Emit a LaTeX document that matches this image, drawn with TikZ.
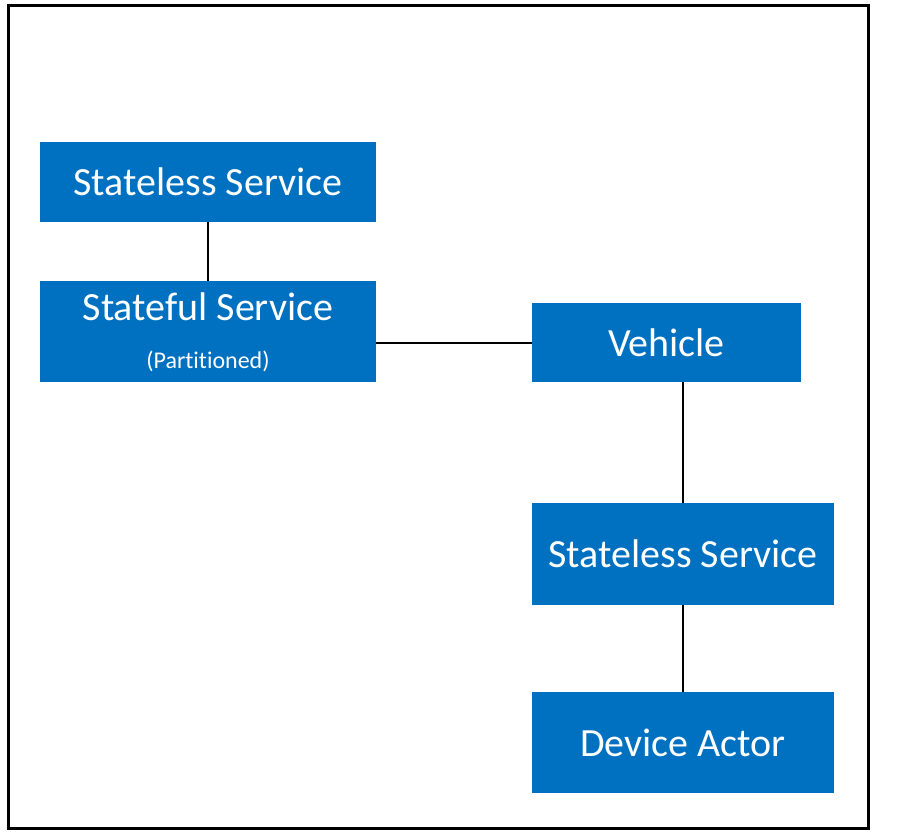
\documentclass[tikz,border=0pt]{standalone}
\usepackage{fontspec}
\setmainfont[Ligatures=NoCommon]{Carlito}
\definecolor{svcblue}{RGB}{0,112,192}
\tikzset{
  svcbox/.style={fill=svcblue, text=white, inner sep=0pt, align=center, font=\fontsize{40}{48}\selectfont},
  link/.style={draw=black, line width=2pt}
}
\begin{document}
\begin{tikzpicture}[x=1pt, y=-1pt]
\useasboundingbox (0,0) rectangle (899,835);
\draw[line width=3pt] (8,5) rectangle (868,828);
\node[svcbox, minimum width=336pt, minimum height=80pt] (front) at (208,182) {Stateless Service};
\node[svcbox, minimum width=336pt, minimum height=101pt] (stateful) at (208,331.5) {};
\node[font=\fontsize{40}{48}\selectfont, text=white, inner sep=0pt] (statefultitle) at (208,307) {Stateful Service};
\node[font=\fontsize{24}{28}\selectfont, text=white, inner sep=0pt] (partition) at (208,361) {(Partitioned)};
\node[svcbox, minimum width=269pt, minimum height=79pt] (vehicle) at (666.5,342.5) {Vehicle};
\node[svcbox, minimum width=302pt, minimum height=102pt] (gateway) at (683,554) {Stateless Service};
\node[svcbox, minimum width=302pt, minimum height=101pt] (device) at (683,742.5) {Device Actor};
\draw[link] (front.south) -- (stateful.north);
\draw[link] (vehicle.west -| stateful.east) -- (vehicle.west);
\draw[link] (vehicle.south -| gateway.north) -- (gateway.north);
\draw[link] (gateway.south) -- (device.north);
\end{tikzpicture}
\end{document}
